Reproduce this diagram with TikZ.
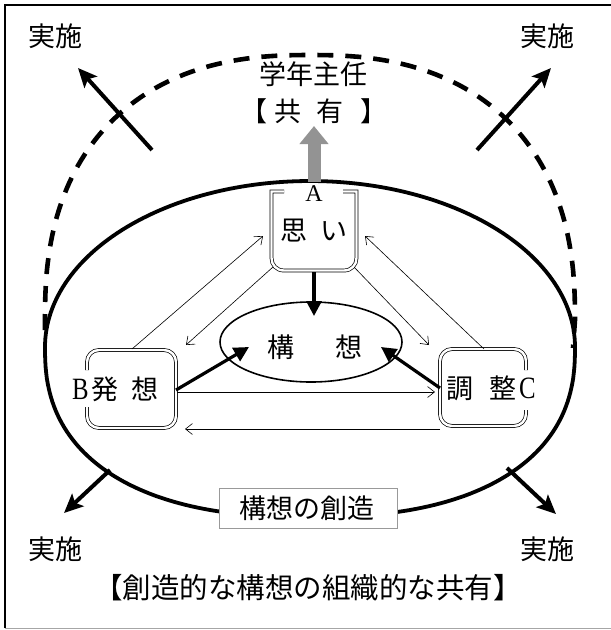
\documentclass[tikz,border=0pt]{standalone}
\usepackage{fontspec}
\setmainfont{Liberation Serif}
\newfontfamily\jp{Noto Sans CJK JP}
\newfontfamily\lat[FakeStretch=0.8]{Liberation Serif}
\usetikzlibrary{arrows.meta,calc,shapes.geometric}

\begin{document}
\begin{tikzpicture}[x=1pt,y=-1pt,
  jtxt/.style={font=\jp\fontsize{27}{30}\selectfont, inner sep=0pt},
  heavy/.style={line width=3.8pt, line join=round},
  dashring/.style={line width=4.6pt, dash pattern=on 16pt off 12pt},
  dbl/.style={draw, double, double distance=2.4pt, line width=0.7pt},
  thinarr/.style={line width=0.6pt, -{Straight Barb[length=7pt,width=11pt]}},
  corearr/.style={line width=3.2pt, -{Triangle[length=15pt,width=15pt]}},
  outarr/.style={line width=4pt, -{Stealth[length=19pt,width=17pt,inset=4pt]}},
  declare function={
    spx(\t)=sign(cos(\t))*pow(abs(cos(\t))+0.00001,0.8333);
    spy(\t)=sign(sin(\t))*pow(abs(sin(\t))+0.00001,0.8333);
  }
]
\useasboundingbox (0,0) rectangle (611,630);

% frame
\draw[line width=2pt] (5,628) -- (5,5) -- (611,5);
\draw[gray!70, line width=1pt] (5,628) -- (611,628);

% outer dashed ring (upper half) and solid ring
\draw[dashring] (45,330) -- plot[domain=180:360, samples=121]
  ({310+265*spx(\x)},{320+265*spy(\x)}) -- (573,348);
\draw[heavy] plot[domain=180:360, samples=121] ({310+265*cos(\x)},{347+166*sin(\x)})
  -- plot[domain=0:180, samples=121] ({310+265*spx(\x)},{347+170*spy(\x)}) -- cycle;

% shared-by-leader arrow
\coordinate (ringTop) at (314,182);
\coordinate (upTip) at (314,126);
\draw[line width=13pt, gray!85, -{Triangle[length=18pt,width=28pt]}] (ringTop) -- (upTip);

% texts outside the ring
\node[jtxt] (jissiTL) at (55,36) {実施};
\node[jtxt] (jissiTR) at (547,36) {実施};
\node[jtxt] (jissiBL) at (55,549) {実施};
\node[jtxt] (jissiBR) at (547,549) {実施};
\node[jtxt] (leader) at (313,74) {学年主任};
\node[jtxt] (share) at (314,111) {【\hspace{7pt}共\hspace{15pt}有\hspace{17pt}】};
\node[jtxt, font=\jp\fontsize{28.5}{30}\selectfont] (motto) at (308,588) {【創造的な構想の組織的な共有】};

% outward arrows
\coordinate (oTL) at (152,150); \coordinate (tTL) at (78,68);
\coordinate (oTR) at (477,150); \coordinate (tTR) at (551,68);
\coordinate (oBL) at (110,470); \coordinate (tBL) at (64,513);
\coordinate (oBR) at (507,468); \coordinate (tBR) at (556,514);
\draw[outarr] (oTL) -- (tTL);
\draw[outarr] (oTR) -- (tTR);
\draw[outarr] (oBL) -- (tBL);
\draw[outarr] (oBR) -- (tBR);

% box A (open at the top)
\draw[dbl] (284,191.5) -- (271.5,191.5) -- (271.5,258)
  .. controls (271.5,265) and (276.5,270.5) .. (284,270.5) -- (344,270.5)
  .. controls (351.5,270.5) and (356.5,265) .. (356.5,258) -- (356.5,191.5) -- (343,191.5);
\node[inner sep=0pt, font=\fontsize{24}{25}\selectfont] (hdrA) at (314,194) {A};
\node[jtxt] (txtA) at (314,231) {思\hspace{14pt}い};

% box B (open on the left)
\draw[dbl, rounded corners=12pt] (87,407) -- (87,428) -- (176,428) -- (176,350) -- (87,350) -- (87,370);
\node[jtxt, anchor=west] (txtB) at (72,389) {{\lat\fontsize{31}{32}\selectfont B}\hspace{3pt}発\hspace{13pt}想};

% box C (open on the right)
\draw[dbl, rounded corners=12pt] (526,370) -- (526,349) -- (440,349) -- (440,426) -- (526,426) -- (526,410);
\node[jtxt, anchor=west] (txtC) at (446,388) {調\hspace{16pt}整\hspace{3pt}{\lat\fontsize{31}{32}\selectfont C}};

% core idea
\node[draw, ellipse, line width=1.6pt, minimum width=182pt, minimum height=80pt, inner sep=0pt] (core) at (311,342) {};
\node[jtxt] (coreTxt) at (315,347) {構\hspace{42pt}想};

% creation label
\node[draw=gray!80, fill=white, line width=1pt, minimum width=178pt, minimum height=40pt, inner sep=0pt] (create) at (308,508) {};
\node[jtxt] (createTxt) at (307,508) {構想の創造};

% arrows into the core
\coordinate (aOut) at (314,272);
\coordinate (coreTop) at (314,316);
\coordinate (bOut) at (176,390);
\coordinate (coreLeft) at (249,347);
\coordinate (cOut) at (440,388);
\coordinate (coreRight) at (381,347);
\draw[corearr] (aOut) -- (coreTop);
\draw[corearr] (bOut) -- (coreLeft);
\draw[corearr] (cOut) -- (coreRight);

% exchanges between A, B and C
\coordinate (bTop) at (132,349);
\coordinate (aLeft) at (263,236);
\coordinate (aLowL) at (273,267);
\coordinate (bTopR) at (186,345);
\coordinate (cTop) at (484,349);
\coordinate (aRight) at (365,236);
\coordinate (aLowR) at (354,267);
\coordinate (cTopL) at (429,345);
\coordinate (bMid) at (177,392);
\coordinate (cMid) at (435,392);
\coordinate (cLow) at (440,429);
\coordinate (bLow) at (185,429);
\draw[thinarr] (bTop) -- (aLeft);
\draw[thinarr] (aLowL) -- (bTopR);
\draw[thinarr] (cTop) -- (aRight);
\draw[thinarr] (aLowR) -- (cTopL);
\draw[thinarr] (bMid) -- (cMid);
\draw[thinarr] (cLow) -- (bLow);
\end{tikzpicture}
\end{document}
